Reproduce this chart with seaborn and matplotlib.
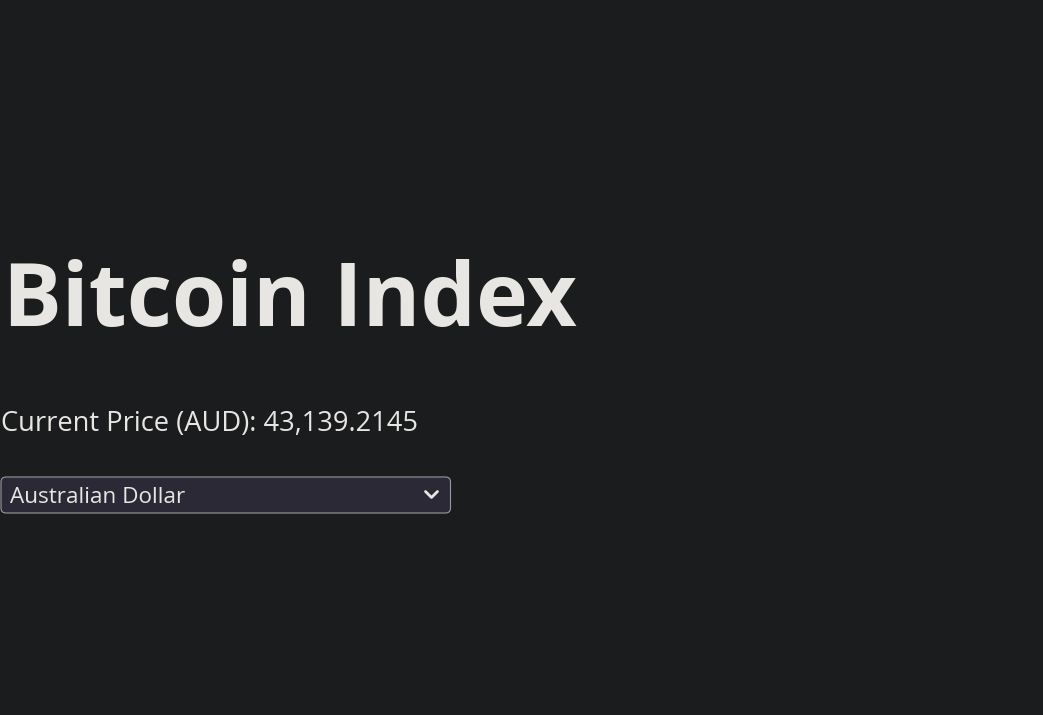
import matplotlib
matplotlib.use("Agg")
import matplotlib.pyplot as plt
import seaborn as sns
from matplotlib.patches import FancyBboxPatch

# ---- content ----
title_text = "Bitcoin Index"
currency_code = "AUD"
current_price = 43139.2145
price_label = "Current Price ({}): {:,.4f}"
dropdown_options = ["Australian Dollar"]

BG = "#1b1c1e"
FG = "#e8e6e3"
SEL_BG = "#2b2935"
SEL_EDGE = "#9a99a0"

sns.set_theme(style="dark", rc={"figure.facecolor": BG, "axes.facecolor": BG,
                                "text.color": FG})
plt.rcParams["font.family"] = ["Open Sans", "DejaVu Sans"]

W, H = 1043, 715
fig = plt.figure(figsize=(W / 100, H / 100), dpi=100)
ax = fig.add_axes([0, 0, 1, 1])
ax.set_xlim(0, W)
ax.set_ylim(H, 0)
ax.axis("off")

renderer = fig.canvas.get_renderer()

def fit_text(x0, x1, y, s, size, **kw):
    t = ax.text(x0, y, s, fontsize=size, va="baseline", ha="left", color=FG, **kw)
    bb = t.get_window_extent(renderer)
    w = bb.width
    t.set_fontsize(size * (x1 - x0) / w)
    return t

fit_text(3, 577, 326, title_text, 70, fontweight="bold")
fit_text(1, 417, 431, price_label.format(currency_code, current_price), 20)

# dropdown
box = FancyBboxPatch((1.0, 477.0), 449.5, 36.0,
                     boxstyle="round,pad=0,rounding_size=5",
                     facecolor=SEL_BG, edgecolor=SEL_EDGE, linewidth=0.8)
ax.add_patch(box)
fit_text(10, 185, 503, dropdown_options[0], 16)
ax.plot([425.5, 431.5, 437.5], [491.5, 497.5, 491.5], color=FG, lw=2.0,
        solid_capstyle="round", solid_joinstyle="round")

fig.savefig("out.png", dpi=100, facecolor=BG)
